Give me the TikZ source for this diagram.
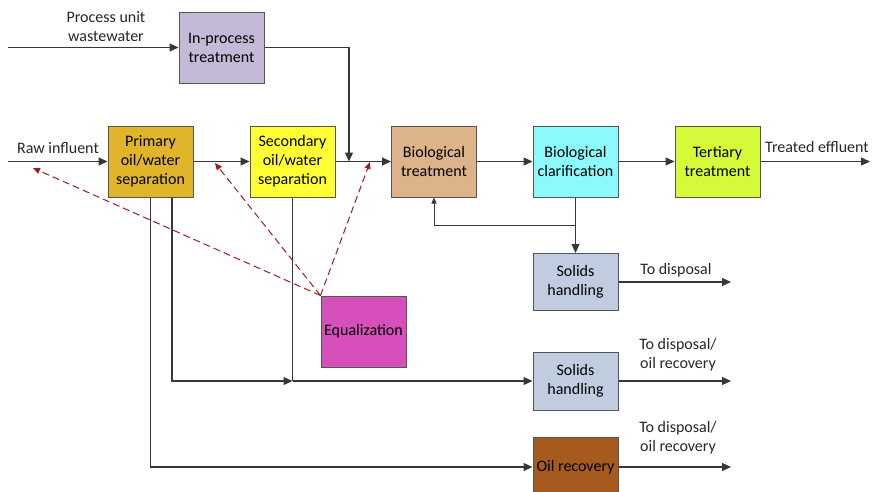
\documentclass[tikz,border=0pt]{standalone}
\usepackage{fontspec}
\setmainfont{Carlito}
\usetikzlibrary{arrows.meta}
\definecolor{boxline}{RGB}{85,85,85}
\definecolor{flowgrey}{RGB}{55,55,55}
\definecolor{eqred}{RGB}{160,28,28}
\definecolor{inproccol}{RGB}{196,186,215}
\definecolor{primcol}{RGB}{224,181,42}
\definecolor{seccol}{RGB}{255,255,51}
\definecolor{biocol}{RGB}{221,179,138}
\definecolor{clarcol}{RGB}{140,250,250}
\definecolor{tertcol}{RGB}{213,250,58}
\definecolor{solidscol}{RGB}{192,205,224}
\definecolor{eqcol}{RGB}{214,79,187}
\definecolor{oilcol}{RGB}{166,90,30}

\begin{document}
\begin{tikzpicture}[x=1pt, y=-1pt,
    box/.style={draw=boxline, line width=1pt, minimum width=85pt, minimum height=71pt,
                inner sep=1pt, align=center, font=\fontsize{16}{19}\selectfont},
    lbl/.style={align=center, text=black!85, font=\fontsize{16}{19}\selectfont},
    flow/.style={-{Triangle[length=9pt,width=8pt]}, line width=1.2pt, flowgrey},
    line/.style={line width=1.2pt, flowgrey},
    eqarr/.style={-{Triangle[length=7pt,width=6pt]}, line width=1pt, eqred,
                  dash pattern=on 7pt off 4pt}
  ]
    \useasboundingbox (0,0) rectangle (872,491);
    % Main treatment line
    \node[box, fill=inproccol] (inproc) at (221.5,47.5) {In-process\\treatment};
    \node[box, fill=primcol] (prim) at (150.5,161.5) {Primary\\oil/water\\separation};
    \node[box, fill=seccol] (sec) at (292.5,161.5) {Secondary\\oil/water\\separation};
    \node[box, fill=biocol] (bio) at (434,161.5) {Biological\\treatment};
    \node[box, fill=clarcol] (clar) at (575.5,161.5) {Biological\\clarification};
    \node[box, fill=tertcol] (tert) at (717.5,161.5) {Tertiary\\treatment};
    % Side units
    \node[box, fill=solidscol, minimum height=57pt] (solids1) at (575.5,282) {Solids\\handling};
    \node[box, fill=eqcol] (eq) at (363.5,331.5) {Equalization};
    \node[box, fill=solidscol, minimum height=58pt] (solids2) at (575.5,381) {Solids\\handling};
    \node[box, fill=oilcol, minimum height=60pt] (oilrec) at (575.5,467) {Oil recovery};
    % Text labels
    \node[lbl] (proclbl) at (106,27) {Process unit\\wastewater};
    \node[lbl] (rawlbl) at (58,148) {Raw influent};
    \node[lbl] (efflbl) at (817,147) {Treated effluent};
    \node[lbl] (out1lbl) at (676,270) {To disposal};
    \node[lbl] (out2lbl) at (678,355) {To disposal/\\oil recovery};
    \node[lbl] (out3lbl) at (678,438) {To disposal/\\oil recovery};
    % Free ends and junctions
    \coordinate (procin) at (8,47.5);
    \coordinate (rawin) at (8,161.5);
    \coordinate (merge) at (349,161.5);
    \coordinate (effout) at (870,161.5);
    \coordinate (ret) at (575.5,225);
    \coordinate (jn) at (292.5,381);
    \coordinate (out1) at (731,282);
    \coordinate (out2) at (731,381);
    \coordinate (out3) at (731,467);
    % Arrows
    \draw[flow] (procin) -- (inproc);
    \draw[flow] (inproc.east) -| (merge);
    \draw[flow] (rawin) -- (prim);
    \draw[flow] (prim) -- (sec);
    \draw[flow] (sec) -- (bio);
    \draw[flow] (bio) -- (clar);
    \draw[flow] (clar) -- (tert);
    \draw[flow] (tert) -- (effout);
    \draw[flow] (clar) -- (solids1);
    \draw[-{Triangle[length=6pt,width=5pt]}, line width=1pt, flowgrey] (ret) -| (bio.south);
    \draw[flow] (prim.south) |- (oilrec);
    \draw[flow] ([xshift=21.5pt]prim.south) |- (jn);
    \draw[line] (sec.south) -- (jn);
    \draw[flow] (jn) -- (solids2);
    \draw[flow] (solids1) -- (out1);
    \draw[flow] (solids2) -- (out2);
    \draw[flow] (oilrec) -- (out3);
    % Equalization returns
    \draw[eqarr] (eq.north west) -- (33,168);
    \draw[eqarr] (eq.north west) -- (215,163);
    \draw[eqarr] (eq.north west) -- (370,162);
  \end{tikzpicture}
\end{document}
